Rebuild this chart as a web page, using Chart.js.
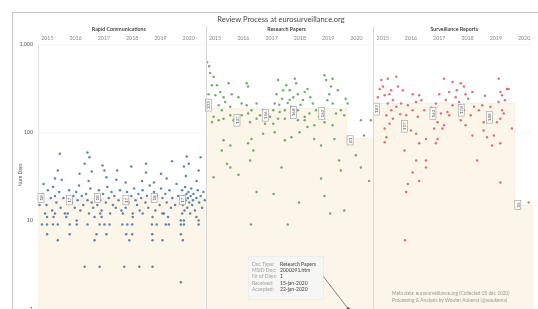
<!DOCTYPE html>
<html><head><meta charset="utf-8">
<script src="https://cdn.jsdelivr.net/npm/chart.js@4/dist/chart.umd.min.js"></script>
<style>html,body{margin:0;padding:0;background:#fff;overflow:hidden}#wrap{position:relative;width:538px;height:309px;overflow:hidden}</style>
</head><body><div id="wrap"><canvas id="c" width="538" height="317"></canvas></div>
<script>
const chartTitle = 'Review Process at eurosurveillance.org';
const categories = ['Rapid Communications', 'Research Papers', 'Surveillance Reports'];
const years = [2015, 2016, 2017, 2018, 2019, 2020];
const yTicks = [1, 10, 100, 1000];
const yTitle = 'Num Days';

// [decimal year, number of days]
const rapidPoints = [
[2015.77,57],[2016.75,59],[2016.82,52],[2016.65,44],[2015.7,37],[2015.84,29],[2015.6,30],[2015.53,24],[2016.47,34],[2016.9,36],
[2016.79,28],[2017.28,42],[2017.35,37],[2017.42,31],[2017.8,37],[2017.77,29],[2018.3,41],[2018.82,44],[2018.82,35],[2018.68,28],
[2019.35,34],[2019.74,47],[2020.26,53],[2020.75,52],[2020.33,44],[2020.16,41],[2020.68,37],[2020.23,32],[2020.61,28],
[2015.2,26],[2015.05,15],[2019.55,30],[2019.1,27],[2018.1,27],
[2015.1,17],[2015.15,20],[2015.3,15],[2015.35,22],[2015.45,18],[2015.5,13],[2015.6,19],[2015.65,16],[2015.75,21],[2015.8,14],[2015.9,18],[2015.95,12],[2015.25,12],[2015.55,11],
[2016.05,18],[2016.1,22],[2016.2,16],[2016.25,19],[2016.3,14],[2016.35,21],[2016.4,17],[2016.45,25],[2016.5,13],[2016.55,19],[2016.6,15],[2016.7,20],[2016.75,17],[2016.8,12],[2016.85,23],[2016.9,16],[2016.95,14],
[2017.05,19],[2017.1,15],[2017.15,22],[2017.2,17],[2017.25,13],[2017.3,20],[2017.4,16],[2017.45,24],[2017.5,18],[2017.55,12],[2017.6,21],[2017.65,15],[2017.7,19],[2017.75,14],[2017.85,17],[2017.9,22],[2017.95,13],
[2018.05,18],[2018.1,14],[2018.15,21],[2018.2,16],[2018.3,19],[2018.35,12],[2018.4,23],[2018.45,17],[2018.5,15],[2018.55,20],[2018.6,13],[2018.65,18],[2018.7,22],[2018.8,16],[2018.85,19],[2018.9,14],[2018.95,25],
[2019.05,17],[2019.1,21],[2019.15,13],[2019.2,19],[2019.3,15],[2019.35,23],[2019.4,18],[2019.45,12],[2019.5,20],[2019.55,16],[2019.65,22],[2019.7,14],[2019.75,18],[2019.85,15],[2019.9,26],[2019.95,19],
[2020.05,18],[2020.1,22],[2020.12,15],[2020.15,19],[2020.18,13],[2020.2,24],[2020.22,17],[2020.25,20],[2020.28,14],[2020.3,18],[2020.32,21],[2020.35,16],[2020.38,12],[2020.4,19],[2020.42,23],[2020.45,15],[2020.48,17],[2020.5,20],[2020.55,13],[2020.6,18],[2020.65,22],[2020.7,16],[2020.75,19],[2020.8,14],[2020.85,21],[2020.9,17],
[2015.14,9],[2015.32,9],[2015.53,9],[2015.7,9],[2016.12,9],[2016.37,9],[2016.75,9],[2017.18,9],[2017.35,9],[2017.53,9],[2017.98,9],[2018.16,9],[2018.33,9],[2019.03,9],[2019.2,9],[2019.52,9],[2019.63,9],[2020.05,9],[2020.16,9],[2020.68,9],
[2016.37,10],[2020.05,10],[2020.16,10],[2020.68,10],
[2015.32,11],[2015.6,12],[2016.0,11],[2016.05,12],[2017.0,11],[2017.2,12],[2017.25,11],[2018.0,12],[2018.35,11],[2018.7,12],[2019.05,11],[2019.4,12],[2019.6,11],[2020.1,12],[2020.6,11],
[2015.32,7],[2016.12,7],[2017.07,7],[2017.42,7],[2018.12,7],[2018.33,7],[2019.04,7],[2020.05,7],
[2015.7,6],[2017.0,6],[2018.23,6],[2019.05,6],[2019.4,6],[2020.12,6],
[2016.65,3],[2017.18,3],[2018.05,3],[2018.58,3],[2019.05,3],
[2020.05,2]
];

const researchPoints = [
[2015.16,470],[2015.28,425],[2015.22,342],[2015.4,342],[2015.52,286],[2015.81,360],[2015.1,270],[2015.34,263],[2015.63,250],[2015.92,270],
[2016.45,360],[2016.5,330],[2016.16,250],[2015.46,203],[2015.69,220],[2015.87,195],[2015.57,178],[2015.28,150],[2015.46,137],[2015.22,130],
[2015.63,142],[2015.87,156],[2015.98,137],[2016.27,212],[2016.45,203],[2016.62,178],[2016.8,212],[2016.5,163],[2016.27,156],[2016.57,130],
[2016.8,142],[2016.92,156],[2017.03,178],[2017.56,390],[2017.74,300],[2017.5,270],[2017.85,342],[2017.97,300],[2018.15,405],[2018.2,360],
[2017.97,232],[2018.26,270],[2018.5,286],[2018.6,310],[2018.44,232],[2018.03,195],[2018.26,178],[2017.8,178],[2017.62,170],[2017.39,178],
[2017.44,212],[2017.27,150],[2017.1,125],[2017.39,125],[2017.56,142],[2017.8,142],[2018.26,137],[2018.5,150],[2018.67,163],[2018.79,212],
[2018.9,178],[2019.02,150],[2019.2,444],[2019.26,390],[2019.49,405],[2019.43,330],[2019.37,270],[2019.67,300],[2019.49,212],[2019.61,163],
[2019.78,178],[2019.9,156],[2019.49,120],[2019.2,130],[2018.84,120],[2018.6,115],[2018.5,137],[2020.02,212],[2020.49,137],[2020.84,137],[2020.6,92],
[2015.63,81],[2015.87,71],[2015.57,62],[2016.5,75],[2016.62,84],[2016.68,62],[2016.57,48],[2015.75,44],[2015.87,40],[2016.16,33],
[2017.03,96],[2017.44,100],[2017.8,81],[2018.03,88],[2018.32,100],[2018.84,84],[2019.08,71],[2019.55,84],[2019.72,48],[2019.78,37],
[2020.31,55],[2020.49,40],[2020.78,28],[2019.08,30],[2017.68,40],[2015.28,31],
[2016.8,21],[2017.4,20],[2018.3,16],[2019.2,19],[2019.9,13],[2019.4,12],[2016.6,9],[2017.9,9],
[2015.05,620],[2015.12,560],[2017.7,240],[2017.9,215],[2018.1,250],[2018.35,205],[2017.6,205],[2018.7,250],[2019.3,230],[2019.95,240],
[2020.04,1]
];

const surveillancePoints = [
[2015.28,390],[2015.51,405],[2015.81,425],[2015.22,310],[2015.34,330],[2015.63,300],[2015.87,330],[2015.16,250],[2015.4,263],[2015.57,270],
[2015.69,232],[2015.51,212],[2015.81,195],[2015.63,178],[2015.46,156],[2015.69,142],[2015.57,125],[2015.4,110],[2015.46,88],[2015.4,77],
[2016.04,300],[2016.39,270],[2016.62,263],[2015.98,212],[2016.22,203],[2016.51,220],[2016.39,178],[2016.16,156],[2016.57,150],[2016.8,178],
[2016.33,105],[2016.51,96],[2016.62,75],[2016.86,84],[2016.1,62],[2016.51,48],[2016.86,48],[2016.86,40],[2016.39,35],[2016.62,28],[2016.22,26],[2016.16,21],
[2017.21,212],[2017.33,270],[2017.5,405],[2017.56,232],[2017.39,163],[2017.62,170],[2017.27,130],[2017.5,120],[2017.15,110],[2017.27,84],[2017.21,75],[2017.44,110],
[2017.8,372],[2017.68,286],[2017.91,250],[2017.8,203],[2017.68,156],[2018.09,360],[2018.2,330],[2018.26,270],[2018.03,220],[2018.2,178],[2018.09,137],[2018.26,120],
[2018.5,286],[2018.56,195],[2018.44,156],[2018.5,92],[2018.67,48],[2018.73,178],[2018.85,203],[2018.9,130],[2019.14,195],[2018.9,105],[2019.02,88],[2019.2,71],
[2019.26,92],[2019.37,130],[2019.43,405],[2019.49,286],[2019.55,263],[2019.43,220],[2019.55,178],[2019.49,142],[2019.61,163],[2019.72,310],[2019.49,75],[2019.78,310],[2019.9,110],[2019.49,27],
[2020.13,15],[2020.49,16],[2016.12,6],
[2015.1,200],[2015.95,160],[2016.7,230],[2017.05,190],[2017.95,300],[2018.35,240],[2018.95,260],[2019.65,230]
];

// per-year medians (labels) and reference band levels
const rapidMedian = [18, 17, 18, 17, 18, 17];
const researchMedian = [203, 137, 156, 168, 163, 81];
const surveillanceMedian = [183, 117, 163, 178, 148, 15];
const rapidBand = [18, 18, 18, 18, 18, 18];
const researchBand = [186, 186, 186, 186, 186, 85];
const surveillanceBand = [213, 213, 213, 213, 213, 15];

const tooltipLabels = ['Doc Type:', 'MSID Doc:', 'Nr of Days:', 'Received:', 'Accepted:'];
const tooltipValues = ['Research Papers', '2000091.htm', '1', '15-jan-2020', '22-jan-2020'];
const footerLines = ['Meta data: eurosurveillance.org (Collected 05 dec 2020)', 'Processing & Analysis by Wouter Aukema (@waukema)'];

const PANEL_W = 5.93;      // panel span in years
const X_MAX = 17.54;
const TICK_OFF = 0.33;
const FONT = 'Lato, "Open Sans", sans-serif';

const toXY = (k) => (p) => ({ x: k * PANEL_W + (p[0] - 2015), y: p[1] });
function bandData(k, band) {
  const d = band.map((v, i) => ({ x: k * PANEL_W + i, y: v }));
  d.push({ x: Math.min(k * PANEL_W + PANEL_W, X_MAX), y: band[band.length - 1] });
  return d;
}
const beige = '#fcf6ea';
const bandDs = (k, band) => ({
  type: 'line', data: bandData(k, band), stepped: 'before', showLine: true,
  fill: 'start', backgroundColor: beige, borderColor: 'rgba(0,0,0,0.07)', borderWidth: 0.6,
  pointRadius: 0, order: 10
});
const ptDs = (k, pts, col) => ({
  type: 'scatter', data: pts.map(toXY(k)), backgroundColor: col, borderWidth: 0,
  pointRadius: 1.25, order: 1
});

const medians = [rapidMedian, researchMedian, surveillanceMedian];

const overlay = {
  id: 'overlay',
  beforeDraw(chart) {
    const ctx = chart.ctx;
    ctx.save();
    ctx.fillStyle = '#fff';
    ctx.fillRect(0, 0, chart.width, chart.height);
    ctx.restore();
  },
  afterDatasetsDraw(chart) {
    const ctx = chart.ctx, xs = chart.scales.x, ys = chart.scales.y;
    ctx.save();
    ctx.font = '4.5px ' + FONT;
    medians.forEach((arr, k) => {
      arr.forEach((v, i) => {
        const px = xs.getPixelForValue(k * PANEL_W + i) + 3;
        const py = ys.getPixelForValue(v);
        const t = String(v);
        const w = ctx.measureText(t).width + 4;
        ctx.save();
        ctx.translate(px, py);
        ctx.rotate(-Math.PI / 2);
        ctx.fillStyle = 'rgba(255,255,255,0.9)';
        ctx.fillRect(-w / 2, -3, w, 6);
        ctx.strokeStyle = '#9a9a9a'; ctx.lineWidth = 0.6;
        ctx.strokeRect(-w / 2, -3, w, 6);
        ctx.fillStyle = '#555'; ctx.textAlign = 'center'; ctx.textBaseline = 'middle';
        ctx.fillText(t, 0, 0.3);
        ctx.restore();
      });
    });
    ctx.restore();
  },
  afterDraw(chart) {
    const ctx = chart.ctx, xs = chart.scales.x, ys = chart.scales.y;
    ctx.save();
    // frame
    ctx.strokeStyle = '#c4c4c4'; ctx.lineWidth = 1;
    ctx.beginPath(); ctx.moveTo(12.5, 320); ctx.lineTo(12.5, 12.5); ctx.lineTo(545, 12.5); ctx.stroke();
    // title
    ctx.fillStyle = '#4a4a4a'; ctx.font = '7.5px ' + FONT; ctx.textAlign = 'center'; ctx.textBaseline = 'middle';
    ctx.fillText(chartTitle, 281, 20);
    // panel dividers + titles
    ctx.strokeStyle = '#d8d8d8'; ctx.lineWidth = 1;
    for (let k = 1; k < 3; k++) {
      const x = Math.round(xs.getPixelForValue(k * PANEL_W)) + 0.5;
      ctx.beginPath(); ctx.moveTo(x, 26); ctx.lineTo(x, 317); ctx.stroke();
    }
    ctx.fillStyle = '#333'; ctx.font = '600 5.3px ' + FONT;
    categories.forEach((c, k) => {
      const cx = xs.getPixelForValue(k * PANEL_W + PANEL_W / 2);
      ctx.fillText(c, cx - 3, 29.5);
    });
    // y title
    ctx.save();
    ctx.translate(20, 175); ctx.rotate(-Math.PI / 2);
    ctx.fillStyle = '#555'; ctx.font = '5px ' + FONT;
    ctx.fillText(yTitle, 0, 0);
    ctx.restore();
    // tooltip annotation
    const tp = researchPoints[researchPoints.length - 1];
    const tx = xs.getPixelForValue(1 * PANEL_W + tp[0] - 2015), ty = ys.getPixelForValue(tp[1]);
    ctx.strokeStyle = '#666'; ctx.lineWidth = 0.8;
    ctx.beginPath(); ctx.moveTo(323, 276); ctx.lineTo(tx, ty); ctx.stroke();
    ctx.fillStyle = '#444'; ctx.beginPath(); ctx.arc(tx, ty, 1.6, 0, Math.PI * 2); ctx.fill();
    ctx.fillStyle = '#f6f6f5'; ctx.fillRect(248, 256, 75, 43);
    ctx.strokeStyle = '#e8e8e8'; ctx.lineWidth = 0.6; ctx.strokeRect(248.5, 256.5, 75, 43);
    ctx.font = '5px ' + FONT; ctx.textAlign = 'left';
    tooltipLabels.forEach((l, i) => {
      const y = 264 + i * 6.3;
      ctx.fillStyle = '#a0a0a0'; ctx.fillText(l, 252, y);
      ctx.fillStyle = '#444'; ctx.fillText(tooltipValues[i], 280, y);
    });
    // footer
    ctx.fillStyle = '#9a9a9a'; ctx.font = '4.8px ' + FONT;
    ctx.fillText(footerLines[0], 392, 293);
    ctx.fillText(footerLines[1], 392, 300);
    ctx.restore();
  }
};

new Chart(document.getElementById('c'), {
  type: 'scatter',
  data: {
    datasets: [
      bandDs(0, rapidBand), bandDs(1, researchBand), bandDs(2, surveillanceBand),
      ptDs(0, rapidPoints, 'rgba(78,121,167,0.9)'),
      ptDs(1, researchPoints.slice(0, -1), 'rgba(89,161,79,0.85)'),
      ptDs(2, surveillancePoints, 'rgba(225,87,89,0.85)')
    ]
  },
  options: {
    responsive: false, animation: false, devicePixelRatio: 1,
    layout: { padding: { top: 28, bottom: 2, left: 0, right: 0 } },
    plugins: { legend: { display: false }, tooltip: { enabled: false } },
    scales: {
      x: {
        type: 'linear', position: 'top', min: 0, max: X_MAX,
        grid: { display: false, drawTicks: false }, border: { display: false },
        afterBuildTicks(s) {
          const t = [];
          for (let k = 0; k < 3; k++) years.forEach((y, i) => {
            const v = k * PANEL_W + i + TICK_OFF;
            if (v <= X_MAX) t.push({ value: v });
          });
          s.ticks = t;
        },
        afterFit(s) { s.height = 16; },
        ticks: {
          autoSkip: false, maxRotation: 0, padding: 3, color: '#888', font: { family: FONT, size: 5.3 },
          callback(v) { const k = Math.floor(v / PANEL_W); const i = Math.round(v - k * PANEL_W - TICK_OFF); return String(years[i]); }
        }
      },
      y: {
        type: 'logarithmic', min: 1, max: 1000,
        afterBuildTicks(s) { s.ticks = yTicks.map(v => ({ value: v })); },
        afterFit(s) { s.width = 38; },
        grid: { color: '#f5f5f5', drawTicks: false },
        border: { color: '#e2e2e2' },
        ticks: { padding: 5, color: '#555', font: { family: FONT, size: 5.3 }, callback: v => Number(v).toLocaleString('en-US') }
      }
    }
  },
  plugins: [overlay]
});
</script>
</body></html>
